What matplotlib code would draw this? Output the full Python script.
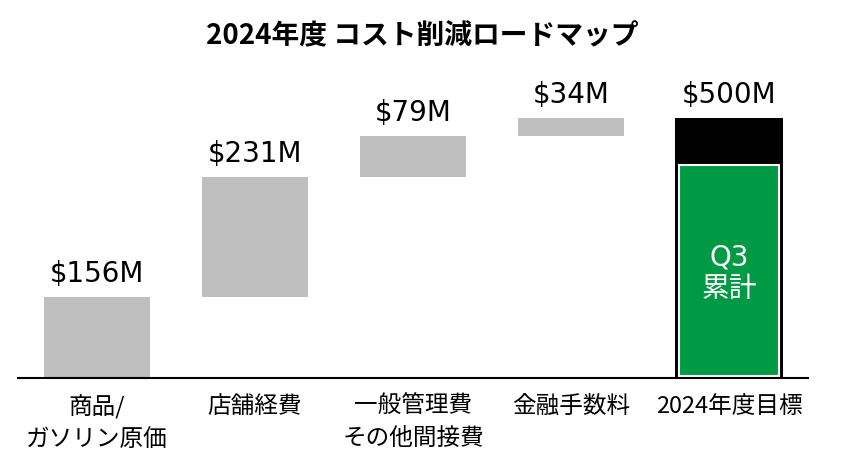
import matplotlib.pyplot as plt
import numpy as np

plt.rcParams['font.family'] = ['Noto Sans CJK JP', 'DejaVu Sans']

categories = ["商品/\nガソリン原価", "店舗経費", "一般管理費\nその他間接費", "金融手数料", "2024年度目標"]
steps = [156, 231, 79, 34]
total = 500
q3_actual = 410
value_labels = ["$156M", "$231M", "$79M", "$34M", "$500M"]

grey = "#BFBFBF"
green = "#009A44"

def main():
    fig = plt.figure(figsize=(8.45, 4.61), dpi=100)
    ax = fig.add_axes([18 / 845, 83 / 461, 790 / 845, 291 / 461])

    x = np.arange(len(categories))
    bottoms = np.concatenate(([0], np.cumsum(steps)[:-1]))

    # waterfall steps
    ax.bar(x[:-1], steps, bottom=bottoms, width=0.665, color=grey)
    # total target bar with Q3 actual inside
    ax.bar(x[-1], total, width=0.68, color="black")
    ax.bar(x[-1], q3_actual - 4, bottom=4, width=0.635, color=green,
           edgecolor="white", linewidth=1.5)
    ax.text(x[-1], q3_actual / 2 - 3, "Q3\n累計", color="white", fontsize=20,
            family=['DejaVu Sans', 'Noto Sans CJK JP'],
            ha="center", va="center", linespacing=1.15)

    tops = list(bottoms + np.array(steps)) + [total]
    for xi, top, lab in zip(x, tops, value_labels):
        ax.annotate(lab, (xi, top), xytext=(0, 11), textcoords="offset points",
                    ha="center", va="baseline", fontsize=20, family="DejaVu Sans")

    ax.set_xlim(-0.5, 4.5)
    ax.set_ylim(0, 560)
    ax.set_xticks(x)
    ax.set_xticklabels(categories, fontsize=17, linespacing=1.5)
    ax.tick_params(axis="x", length=0, pad=12)
    ax.set_yticks([])
    for s in ["top", "right", "left"]:
        ax.spines[s].set_visible(False)
    ax.spines["bottom"].set_linewidth(1.5)

    fig.text(0.5, 1 - 36 / 461, "2024年度 コスト削減ロードマップ", ha="center",
             va="center", fontsize=20, fontweight="bold")

    fig.savefig("out.png", dpi=100)

if __name__ == "__main__":
    main()
